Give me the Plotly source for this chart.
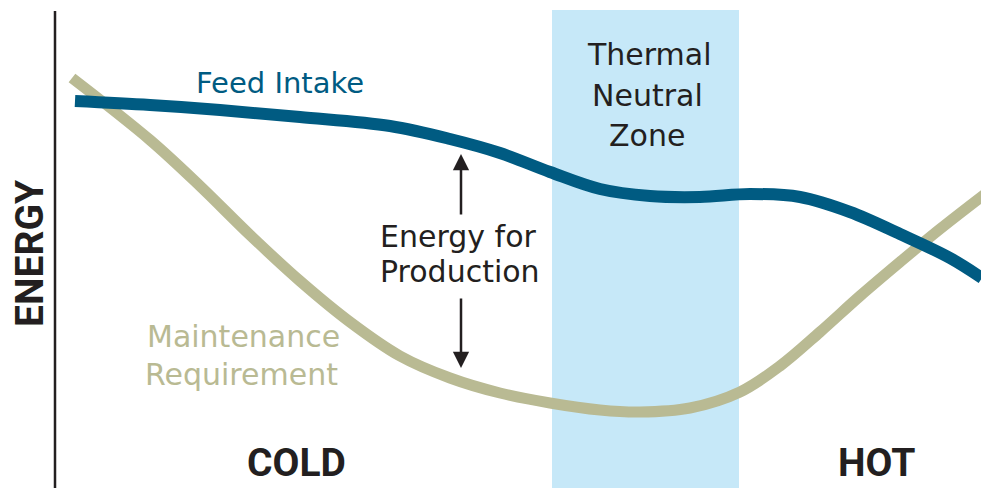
import plotly.graph_objects as go

# Temperature axis positions (cold -> hot) and energy levels (screen-like units, higher value = lower on chart)
feed_x = [75, 150, 220, 300, 390, 450, 500, 550, 600, 650, 700, 750, 800, 850, 900, 950, 982]
feed_y = [101, 105, 110, 117, 126, 139, 153, 172, 189, 196, 197, 194, 197, 212, 234, 258, 278]

maint_x = [72, 150, 200, 250, 300, 350, 400, 450, 500, 550, 600, 640, 690, 740, 780, 820, 860, 900, 940, 985]
maint_y = [78, 140, 186, 235, 281, 322, 356, 378, 393, 403, 410, 412, 408, 392, 366, 332, 296, 262, 229, 194]

zone_x = [552, 739]

FEED_C = "#005b82"
MAINT_C = "#b9ba93"
ZONE_C = "#c6e8f8"
TEXT_C = "#231f20"
FONT = "DejaVu Sans"
BOLD_FONT = "Roboto"

# page has an 8px body margin: figure is shrunk and ranges shifted so data units = page pixels
OFF = 8
fig = go.Figure()

fig.add_shape(type="rect", x0=zone_x[0], x1=zone_x[1], y0=10, y1=488,
              fillcolor=ZONE_C, line_width=0, layer="below")
fig.add_shape(type="line", x0=55, x1=55, y0=11, y1=488,
              line=dict(color=TEXT_C, width=2.5))

fig.add_trace(go.Scatter(x=maint_x, y=maint_y, mode="lines",
                         line=dict(color=MAINT_C, width=11, shape="spline", smoothing=1.0),
                         hoverinfo="skip"))
fig.add_trace(go.Scatter(x=feed_x, y=feed_y, mode="lines",
                         line=dict(color=FEED_C, width=12, shape="spline", smoothing=1.0),
                         hoverinfo="skip"))

def txt(x, y, s, size, color=TEXT_C, bold=False, angle=0):
    fig.add_annotation(x=x, y=y, text=("<b>%s</b>" % s) if bold else s, showarrow=False,
                       font=dict(family=BOLD_FONT if bold else FONT, size=size, color=color),
                       textangle=angle, xanchor="center", yanchor="middle")

txt(280, 83, "Feed Intake", 29, FEED_C)
txt(649, 54, "Thermal", 30)
txt(647, 95, "Neutral", 30)
txt(647, 135, "Zone", 30)
txt(458, 236, "Energy for", 30)
txt(460, 271, "Production", 30)
txt(243, 336, "Maintenance", 30, MAINT_C)
txt(241, 374, "Requirement", 30, MAINT_C)
txt(296, 463, "COLD", 39, bold=True)
txt(876, 463, "HOT", 39, bold=True)
txt(30, 253, "ENERGY", 39, bold=True, angle=-90)

for tip, tail in [(154, 216), (368, 297)]:
    fig.add_annotation(x=461, y=tip, ax=461, ay=tail, axref="x", ayref="y",
                       xref="x", yref="y", showarrow=True, arrowhead=2,
                       arrowsize=1.3, arrowwidth=2.5, arrowcolor=TEXT_C, text="")

fig.update_layout(width=989 - OFF, height=488 - OFF, margin=dict(l=0, r=0, t=0, b=0),
                  plot_bgcolor="white", paper_bgcolor="white", showlegend=False,
                  xaxis=dict(range=[OFF, 989], visible=False, fixedrange=True),
                  yaxis=dict(range=[488, OFF], visible=False, fixedrange=True))

fig.write_html("out.html")
